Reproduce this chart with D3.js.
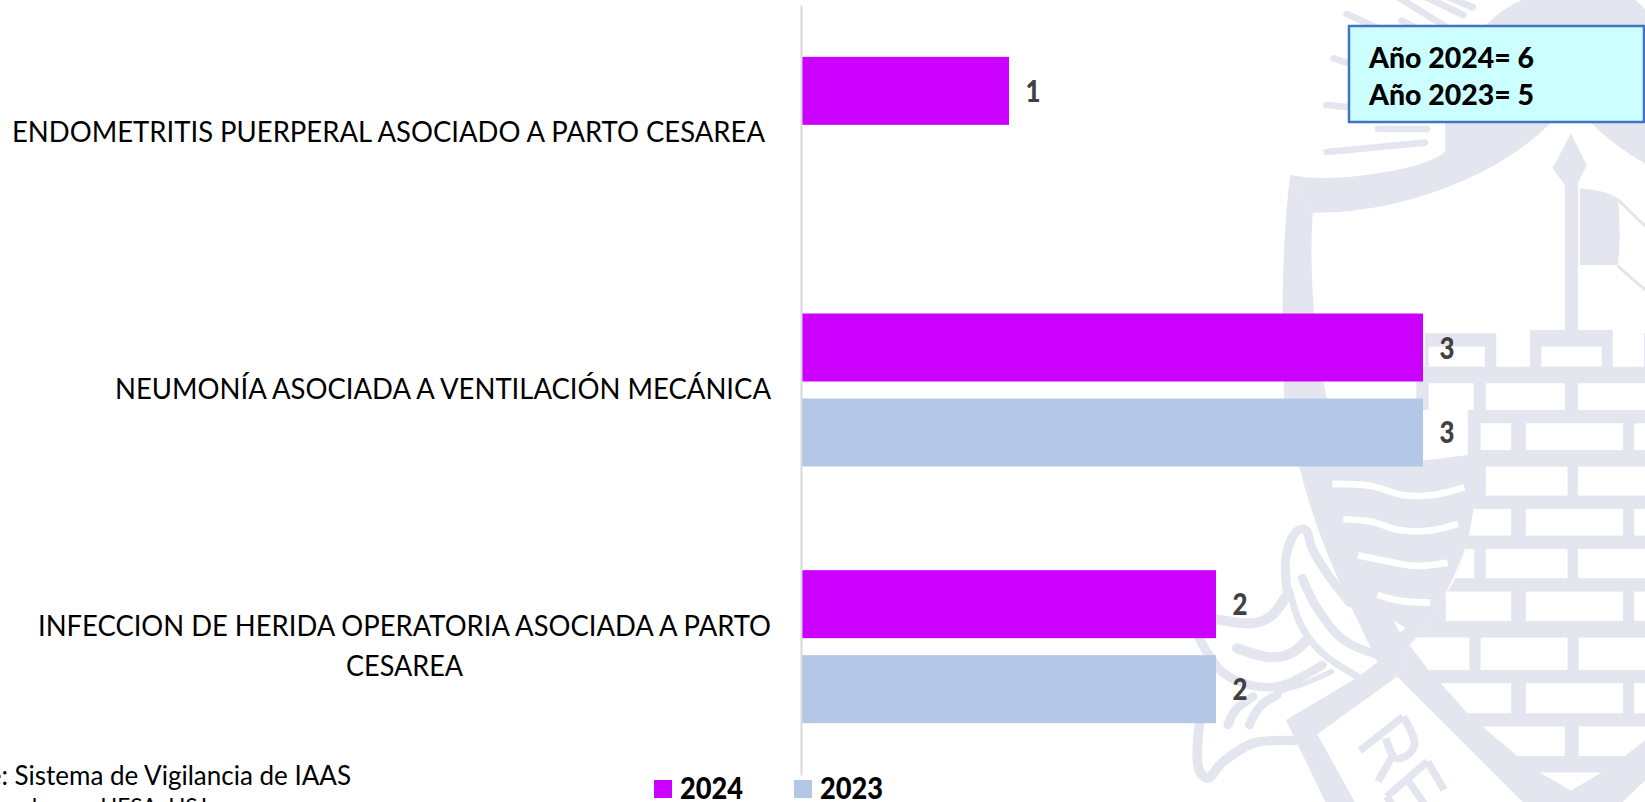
<!DOCTYPE html>
<html>
<head>
<meta charset="utf-8">
<script src="https://cdn.jsdelivr.net/npm/d3@7"></script>
<style>
html,body{margin:0;padding:0;background:#fff;overflow:hidden}
svg{display:block}
text{font-family:Lato,"Open Sans",sans-serif}
</style>
</head>
<body>
<svg id="c" width="1645" height="802"></svg>
<script>
const categories = [
  ["ENDOMETRITIS PUERPERAL ASOCIADO A PARTO CESAREA"],
  ["NEUMONÍA ASOCIADA A VENTILACIÓN MECÁNICA"],
  ["INFECCION DE HERIDA OPERATORIA ASOCIADA A PARTO","CESAREA"]
];
const seriesNames = ["2024","2023"];
const values2024 = [1,3,2];
const values2023 = [null,3,2];
const seriesColors = ["#cc00ff","#b4c7e7"];
const totalsNote = ["Año 2024= 6","Año 2023= 5"];
const sourceNote = ["Fuente: Sistema de Vigilancia de IAAS","Elaborado por: UESA, HSJ"];

const WM = "#e3e6ee";
const svg = d3.select("#c");

/* ---------- watermark (background artwork, not data) ---------- */
const wm = svg.append("g").attr("transform","translate(1100,0) scale(0.3476,0.3333)");
const poly = (g,p,f)=>g.append("polygon").attr("points",p.map(d=>d.join(",")).join(" ")).attr("fill",f);
const curve = d3.line().curve(d3.curveCatmullRom.alpha(.5));
const stroke = (g,p,w,c=WM,cap="round")=>g.append("path").attr("d",curve(p)).attr("fill","none")
   .attr("stroke",c).attr("stroke-width",w).attr("stroke-linecap",cap).attr("stroke-linejoin","round");

// sun rays
[[[710,42],[800,85]],[[868,62],[920,90]],[[855,-10],[1010,90]],[[935,-10],[1045,45]],[[1000,-10],[1072,22]],
 [[672,175],[730,195]],[[652,315],[730,323]],[[800,387],[940,387]],[[652,456],[934,428]]]
 .forEach(p=>stroke(wm,p,20));

// disk and top band of the shield
wm.append("path").attr("fill",WM).attr("d",
 "M547,525 Q650,545 800,520 T993,455 L993,300 Q1010,170 1110,75 Q1200,-20 1330,-30 L1500,-30 Q1540,-5 1575,35 L1575,495 "+
 "Q1480,440 1410,366 L1355,300 L1300,366 Q1200,470 1050,540 Q830,640 612,638 Z");
// left band of the shield
wm.append("path").attr("fill",WM).attr("d","M547,525 Q515,800 530,1200 L620,1420 L700,1400 Q590,1000 612,638 Z");

// spear and flag
poly(wm,[[1355,400],[1400,495],[1375,550],[1375,1000],[1337,1000],[1337,555],[1302,505]],WM);
wm.append("path").attr("fill",WM).attr("d","M1380,565 Q1450,570 1490,595 Q1500,700 1490,795 Q1440,795 1380,795 Z");
stroke(wm,[[1492,600],[1530,640],[1575,685]],9);
stroke(wm,[[1492,800],[1530,835],[1575,875]],9);

// wall
const z2 = p=>p.map(d=>[d[0],d[1]+1200]);
poly(wm,[[910,1100],[935,1100],[935,1000],[1140,1000],[1140,1100],[1237,1100],[1237,990],[1475,990],[1475,1100],[1565,1100],[1565,1000],[1580,1000],
  ...z2([[1580,1130],[1500,1210],[1220,1210],[855,830],[890,730],[950,660],[1020,540],[1048,447],[1075,325],[1058,165],[1058,30]]),[910,1230]],WM);
const bricks = [
 [945,1040,162,60],[1270,1040,173,60],
 [945,1150,130,80],[1110,1150,227,80],[1375,1150,200,80],
 [930,1270,128,60],[1095,1270,88,80],[1225,1270,280,80],[1537,1270,40,80],
 [1110,1400,235,87],[1375,1400,200,87],
 [1225,1527,280,80],[1537,1527,40,80],
 [1110,1647,235,88],[1375,1647,200,88],
 [995,1775,188,88],[1225,1775,280,88],[1537,1775,40,88],
 [1095,1913,250,97],[1377,1913,200,97],
 [1225,2050,280,90],[1537,2050,40,90]
];
wm.selectAll("rect.b").data(bricks).join("rect").attr("class","b").attr("fill","#fff")
  .attr("x",d=>d[0]).attr("y",d=>d[1]).attr("width",d=>d[2]).attr("height",d=>d[3]);
poly(wm,z2([[1075,327],[1183,327],[1183,407],[1061,407]]),"#fff");
poly(wm,z2([[1050,447],[1077,447],[1077,535],[1022,535]]),"#fff");
poly(wm,z2([[890,735],[910,713],[1063,713],[1063,810],[945,810]]),"#fff");
poly(wm,z2([[980,850],[1183,850],[1183,940],[1057,940]]),"#fff");
poly(wm,z2([[1100,980],[1337,980],[1337,1068],[1200,1068]]),"#fff");
poly(wm,z2([[1377,980],[1575,980],[1575,1015],[1510,1068],[1377,1068]]),"#fff");
poly(wm,z2([[1265,1118],[1443,1118],[1355,1172]]),"#fff");

// wave field
const wave = wm.append("g").attr("transform","translate(0,1200)");
wave.append("path").attr("fill",WM).attr("d",
 "M572,195 Q830,200 1058,165 Q1075,250 1075,325 Q1050,500 950,660 L890,730 L855,830 L800,790 L715,605 Q620,400 572,195 Z");
[[[668,252],[780,258],[870,285],[960,285],[1048,262]],
 [[700,358],[780,365],[860,390],[950,392],[1030,372]],
 [[742,466],[830,485],[910,498],[1000,488]],
 [[798,585],[860,602],[950,608]]]
 .forEach(p=>stroke(wave,p,20,"#fff","butt"));
poly(wave,[[845,662],[880,684],[862,698]],"#fff");
// lower band of the shield
poly(wave,[[800,785],[745,830],[535,960],[650,1210],[735,1210],[625,1003],[855,830]],WM);

// ribbon strokes
[[[[538,570],[535,470],[565,395],[590,388],[612,450],[660,530],[720,610]],26],
 [[[582,535],[625,625],[700,720],[800,765]],26],
 [[[545,570],[580,680],[640,760],[745,832]],20],
 [[[300,650],[440,670],[490,650],[535,590]],30],
 [[[395,745],[490,772],[550,760],[590,725]],30],
 [[[285,715],[350,815],[430,855],[520,858],[640,795]],26],
 [[[510,875],[590,850],[665,815]],16],
 [[[368,975],[390,930],[440,890]],26],
 [[[430,975],[460,920],[510,885]],26],
 [[[560,1022],[440,1030],[350,1090],[310,1135],[285,1110],[283,1000],[300,900]],28]]
 .forEach(d=>stroke(wave,d[0],d[1]));

// letters on the ribbon
[[[748,1052],[872,950]],[[872,950],[905,1030],[885,1065],[850,1075],[822,1015]],[[840,1070],[800,1145]],
 [[825,1190],[942,1085]],[[942,1085],[990,1170]],[[885,1140],[935,1215]],[[825,1190],[860,1245]]]
 .forEach(p=>stroke(wave,p,22,WM,"butt"));

/* ---------- chart ---------- */
const x = d3.scaleLinear().domain([0,3]).range([802,1423]);
const y0 = d3.scaleBand().domain(d3.range(categories.length)).range([5,775]);
const y1 = d3.scaleBand().domain(seriesNames).range([0,y0.bandwidth()]).paddingInner(0.2).paddingOuter(0.61);
const color = d3.scaleOrdinal(seriesNames,seriesColors);
const seriesValues = {"2024":values2024,"2023":values2023};

const rows = [];
seriesNames.forEach(s=>seriesValues[s].forEach((v,i)=>{ if(v!=null) rows.push({s,i,v}); }));

svg.append("g").selectAll("rect").data(rows).join("rect")
  .attr("x",x(0)).attr("y",d=>y0(d.i)+y1(d.s))
  .attr("width",d=>x(d.v)-x(0)).attr("height",y1.bandwidth())
  .attr("fill",d=>color(d.s));

svg.append("g").selectAll("text").data(rows).join("text")
  .attr("x",d=>x(d.v)+24).attr("y",d=>y0(d.i)+y1(d.s)+y1.bandwidth()/2+0.5)
  .attr("dy","0.35em").attr("text-anchor","middle")
  .attr("font-size",30).attr("font-weight",900).attr("fill","#404040")
  .attr("textLength",15).attr("lengthAdjust","spacingAndGlyphs")
  .text(d=>d.v);

// axis: domain line only, labels centred on the band
const axis = svg.append("g").attr("transform",`translate(${x(0)-1},0)`)
  .call(d3.axisLeft(y0).tickSize(0).tickFormat(""));
axis.select(".domain").attr("stroke","#d9d9d9").attr("stroke-width",2);

const catG = svg.append("g").selectAll("g").data(categories).join("g");
catG.each(function(lines,i){
  const cy = y0(i)+y0.bandwidth()/2;
  const cx = [388.5,443,404.5][i];
  const w = [[753],[656],[733,117]][i];
  const dy = lines.length>1 ? -21 : -1;
  d3.select(this).selectAll("text").data(lines).join("text")
    .attr("x",cx).attr("y",(d,j)=>cy+dy+j*40).attr("dy","0.35em")
    .attr("text-anchor","middle").attr("font-size",29).attr("fill","#000")
    .attr("textLength",(d,j)=>w[j]).attr("lengthAdjust","spacingAndGlyphs")
    .text(d=>d);
});

// totals box
svg.append("rect").attr("x",1349).attr("y",26).attr("width",295).attr("height",96)
  .attr("fill","#ccffff").attr("stroke","#4472c4").attr("stroke-width",2.5);
svg.append("g").selectAll("text").data(totalsNote).join("text")
  .attr("x",1369).attr("y",(d,i)=>58+i*37).attr("dy","0.35em")
  .attr("font-size",29).attr("font-weight",900).attr("fill","#000")
  .attr("textLength",165).attr("lengthAdjust","spacingAndGlyphs").text(d=>d);

// legend
const lg = svg.append("g").selectAll("g").data(seriesNames).join("g")
  .attr("transform",(d,i)=>`translate(${654+i*140},780)`);
lg.append("rect").attr("width",18).attr("height",18).attr("fill",d=>color(d));
lg.append("text").attr("x",26).attr("y",19).attr("font-size",30).attr("font-weight",900).attr("fill","#000")
  .attr("textLength",63).attr("lengthAdjust","spacingAndGlyphs").text(d=>d);

// source note (runs off the page, as in the reference)
svg.append("g").selectAll("text").data(sourceNote).join("text")
  .attr("x",(d,i)=>[351,207][i]).attr("y",(d,i)=>785+i*30)
  .attr("text-anchor","end").attr("font-size",(d,i)=>[26,22.5][i]).attr("fill","#000").text(d=>d);
</script>
</body>
</html>
